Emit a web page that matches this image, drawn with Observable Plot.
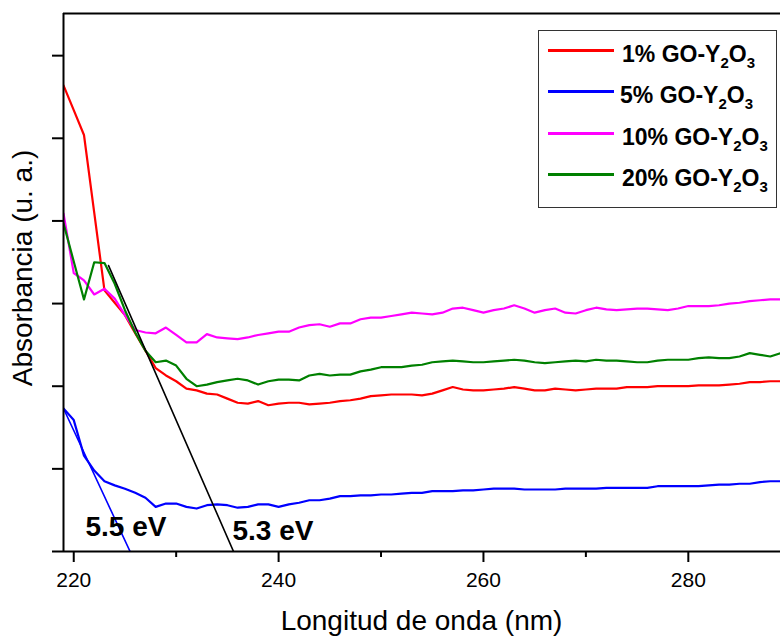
<!DOCTYPE html>
<html>
<head>
<meta charset="utf-8">
<script src="https://cdn.jsdelivr.net/npm/d3@7"></script>
<script src="https://cdn.jsdelivr.net/npm/@observablehq/plot@0.6"></script>
<style>
  html, body { margin: 0; padding: 0; background: #fff; }
  #wrap { position: relative; width: 780px; height: 637px; overflow: hidden; font-family: "Liberation Sans", Arial, sans-serif; }
  #wrap svg { position: absolute; left: 0; top: 0; }
  .ylab { position: absolute; font-size: 28px; line-height: 28px; white-space: nowrap; color: #000; }
  .legend { position: absolute; border: 1.5px solid #333; background: #fff; }
  .lrow { position: absolute; font-weight: bold; font-size: 23px; line-height: 23px; white-space: nowrap; color: #000; }
  .lline { position: absolute; height: 3px; }
  .sub { font-size: 15px; position: relative; top: 6px; }
</style>
</head>
<body>
<div id="wrap"></div>
<script>
// Wavelength grid (nm)
const wavelength = [219,220,221,222,223,224,225,226,227,228,229,230,231,232,233,234,235,236,237,238,239,240,241,242,243,244,245,246,247,248,249,250,251,252,253,254,255,256,257,258,259,260,261,262,263,264,265,266,267,268,269,270,271,272,273,274,275,276,277,278,279,280,281,282,283,284,285,286,287,288,289];

// Absorbance (u. a.)
const go1 = [5.64,5.34,5.04,4.10,3.16,3.01,2.86,2.64,2.43,2.22,2.13,2.06,1.97,1.95,1.91,1.90,1.85,1.80,1.79,1.82,1.77,1.79,1.80,1.80,1.78,1.79,1.80,1.82,1.83,1.85,1.88,1.89,1.90,1.90,1.90,1.89,1.91,1.95,1.99,1.96,1.95,1.95,1.96,1.97,1.99,1.97,1.95,1.95,1.97,1.96,1.95,1.96,1.97,1.97,1.97,1.99,1.99,1.99,2.00,2.00,2.00,2.00,2.01,2.01,2.01,2.02,2.03,2.05,2.05,2.06,2.06];
const go5 = [1.73,1.59,1.16,0.98,0.85,0.80,0.76,0.71,0.65,0.54,0.58,0.58,0.54,0.52,0.56,0.57,0.56,0.53,0.54,0.57,0.57,0.54,0.57,0.59,0.62,0.62,0.64,0.67,0.67,0.68,0.68,0.69,0.69,0.70,0.71,0.71,0.73,0.73,0.73,0.74,0.74,0.75,0.76,0.76,0.76,0.75,0.75,0.75,0.75,0.76,0.76,0.76,0.76,0.77,0.77,0.77,0.77,0.77,0.79,0.79,0.79,0.79,0.79,0.80,0.81,0.81,0.82,0.82,0.84,0.85,0.85];
const go10 = [4.09,3.37,3.28,3.11,3.18,3.06,2.86,2.68,2.65,2.64,2.71,2.62,2.53,2.53,2.63,2.59,2.58,2.57,2.59,2.62,2.64,2.66,2.66,2.71,2.74,2.75,2.72,2.76,2.76,2.81,2.83,2.83,2.85,2.87,2.89,2.88,2.87,2.89,2.94,2.95,2.92,2.89,2.92,2.94,2.98,2.94,2.89,2.92,2.94,2.89,2.88,2.92,2.95,2.93,2.92,2.93,2.94,2.94,2.93,2.92,2.94,2.97,2.97,2.97,2.98,3.00,3.01,3.03,3.04,3.05,3.05];
const go20 = [3.97,3.51,3.05,3.50,3.49,3.24,2.92,2.65,2.43,2.29,2.31,2.25,2.09,2.00,2.02,2.05,2.07,2.09,2.07,2.02,2.06,2.08,2.08,2.07,2.13,2.15,2.13,2.14,2.14,2.18,2.20,2.23,2.23,2.23,2.25,2.26,2.29,2.30,2.31,2.30,2.29,2.29,2.30,2.31,2.32,2.31,2.29,2.28,2.29,2.30,2.31,2.30,2.32,2.31,2.31,2.30,2.29,2.29,2.31,2.32,2.32,2.32,2.34,2.35,2.34,2.34,2.36,2.40,2.38,2.36,2.40];

const seriesNames = ["1% GO-Y2O3", "5% GO-Y2O3", "10% GO-Y2O3", "20% GO-Y2O3"];
const seriesColors = ["#ff0000", "#0000ff", "#ff00ff", "#008000"];
const seriesValues = [go1, go5, go10, go20];

// Band-gap tangent lines
const tangent55X = [219, 225.5];
const tangent55Y = [1.73, 0];
const tangent53X = [223.4, 235.6];
const tangent53Y = [3.46, 0];

// Annotations
const annotLabels = ["5.5 eV", "5.3 eV"];
const annotX = [221.15, 235.5];
const annotY = [0.19, 0.145];

const xDomain = [219, 289];
const yDomain = [0, 6.51];
const xMajorTicks = [220, 240, 260, 280];
const xMinorTicks = [230, 250, 270];
const yTicks = [0, 1, 2, 3, 4, 5, 6];

const rows = [];
seriesValues.forEach((vals, i) => {
  vals.forEach((v, j) => rows.push({ series: seriesNames[i], x: wavelength[j], y: v }));
});
const t55 = tangent55X.map((x, i) => ({ x, y: tangent55Y[i] }));
const t53 = tangent53X.map((x, i) => ({ x, y: tangent53Y[i] }));
const annots = annotLabels.map((t, i) => ({ t, x: annotX[i], y: annotY[i] }));

const chart = Plot.plot({
  width: 780,
  height: 637,
  marginLeft: 63,
  marginRight: 0,
  marginTop: 13,
  marginBottom: 86,
  style: { fontFamily: '"Liberation Sans", Arial, sans-serif', fontSize: "21px", color: "#000", background: "transparent" },
  x: { domain: xDomain, label: null },
  y: { domain: yDomain, label: null },
  color: { domain: seriesNames, range: seriesColors },
  marks: [
    Plot.line(rows, { x: "x", y: "y", z: "series", stroke: "series", strokeWidth: 2.2, clip: true }),
    Plot.line(t55, { x: "x", y: "y", stroke: "#0000ff", strokeWidth: 1.6, clip: true }),
    Plot.line(t53, { x: "x", y: "y", stroke: "#000", strokeWidth: 1.6, clip: true }),
    Plot.text(annots, { x: "x", y: "y", text: "t", textAnchor: "start", lineAnchor: "bottom", fontSize: 28, fontWeight: "bold", fill: "#000" }),
    Plot.ruleX([xDomain[0]], { stroke: "#000", strokeWidth: 2 }),
    Plot.ruleY([yDomain[0]], { stroke: "#000", strokeWidth: 2 }),
    Plot.ruleY([yDomain[1]], { stroke: "#000", strokeWidth: 2 }),
    Plot.axisX(xMajorTicks, { tickSize: 11, tickPadding: 10, strokeWidth: 2, label: null, fontSize: 21 }),
    Plot.axisX(xMinorTicks, { tickSize: 6, strokeWidth: 2, label: null, tickFormat: () => "" }),
    Plot.axisY(yTicks, { tickSize: 11, strokeWidth: 2, label: null, tickFormat: () => "" })
  ]
});

const wrap = document.getElementById("wrap");
wrap.appendChild(chart);

// Axis titles
const xl = document.createElement("div");
xl.className = "ylab";
xl.textContent = "Longitud de onda (nm)";
xl.style.left = "421.5px";
xl.style.top = "607px";
xl.style.transform = "translateX(-50%)";
wrap.appendChild(xl);

const yl = document.createElement("div");
yl.className = "ylab";
yl.textContent = "Absorbancia (u. a.)";
yl.style.left = "23px";
yl.style.top = "268px";
yl.style.transform = "translate(-50%, -50%) rotate(-90deg)";
wrap.appendChild(yl);

// Legend
const legend = document.createElement("div");
legend.className = "legend";
legend.style.left = "538px";
legend.style.top = "30px";
legend.style.width = "237px";
legend.style.height = "176px";
wrap.appendChild(legend);
const rowY = [50, 91, 133, 174];
const pct = ["1%", "5%", "10%", "20%"];
seriesNames.forEach((name, i) => {
  const ln = document.createElement("div");
  ln.className = "lline";
  ln.style.left = "548px";
  ln.style.width = "66px";
  ln.style.top = (rowY[i] - 1.5) + "px";
  ln.style.background = seriesColors[i];
  wrap.appendChild(ln);
  const tx = document.createElement("div");
  tx.className = "lrow";
  tx.style.left = (i === 1 ? 620 : 622) + "px";
  tx.style.top = (rowY[i] - 7.5) + "px";
  tx.innerHTML = pct[i] + ' GO-Y<span class="sub">2</span>O<span class="sub">3</span>';
  wrap.appendChild(tx);
});
</script>
</body>
</html>
